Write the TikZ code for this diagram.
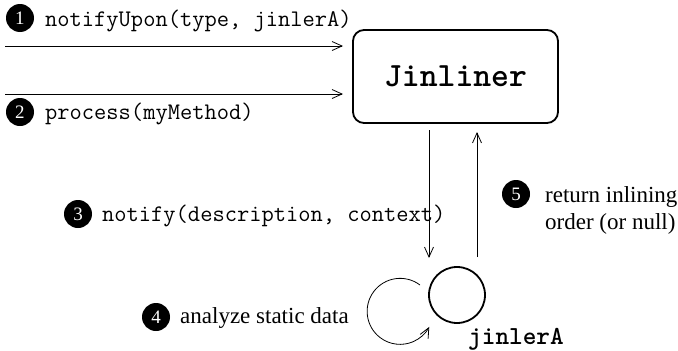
\documentclass[tikz,border=0pt]{standalone}
\usepackage{fontspec}
\setmainfont{Liberation Serif}
\usetikzlibrary{arrows.meta}
\begin{document}
\begin{tikzpicture}[x=1pt,y=-1pt,
  numdot/.style={circle,fill=black,minimum size=28pt,inner sep=0pt,text=white,font=\fontsize{19}{19}\selectfont},
  codetxt/.style={anchor=base west,inner sep=0pt,font=\ttfamily\fontsize{23.8}{26}\selectfont},
  serif/.style={anchor=base west,inner sep=0pt,font=\fontsize{23}{27}\selectfont},
  msg/.style={line width=0.8pt,-{Straight Barb[length=10pt,width=9pt,line width=0.8pt]}}]
\useasboundingbox (0,0) rectangle (678,351);
% Jinliner box
\node[draw,line width=1.8pt,rounded corners=11pt,minimum width=205pt,minimum height=93pt,inner sep=0pt,
  font=\ttfamily\bfseries\fontsize{34}{36}\selectfont] (jin) at (455.5,76.5) {Jinliner};
% jinlerA circle
\node[draw,circle,line width=1.8pt,minimum size=56pt,inner sep=0pt] (ja) at (457,295) {};
\node[anchor=base west,inner sep=0pt,font=\ttfamily\bfseries\fontsize{26}{28}\selectfont] (jalabel) at (468,344) {jinlerA};
% incoming calls
\coordinate (s1) at (5,46);
\coordinate (e1) at (343,46);
\coordinate (s2) at (5,94);
\coordinate (e2) at (343,94);
\draw[msg] (s1) -- (e1);
\draw[msg] (s2) -- (e2);
% vertical arrows
\coordinate (d1) at (429,130);
\coordinate (d2) at (429,258);
\coordinate (u1) at (477,257);
\coordinate (u2) at (477,132);
\draw[msg] (d1) -- (d2);
\draw[msg] (u1) -- (u2);
% self loop
\coordinate (loopstart) at (420,285);
\draw[msg] (loopstart) arc[start angle=-53,end angle=-332,radius=33];
% labels
\node[numdot] (n1) at (20,18) {1};
\node[codetxt] (t1) at (45,26) {notifyUpon(type, jinlerA)};
\node[numdot] (n2) at (20,112) {2};
\node[codetxt] (t2) at (45,119) {process(myMethod)};
\node[numdot] (n3) at (78,214) {3};
\node[codetxt] (t3) at (102,221) {notify(description, context)};
\node[numdot] (n4) at (156,317) {4};
\node[serif] (t4) at (180,323) {analyze static data};
\node[numdot] (n5) at (516,194) {5};
\node[serif] (t5a) at (545,202) {return inlining};
\node[serif] (t5b) at (545,229) {order (or null)};
\end{tikzpicture}
\end{document}
